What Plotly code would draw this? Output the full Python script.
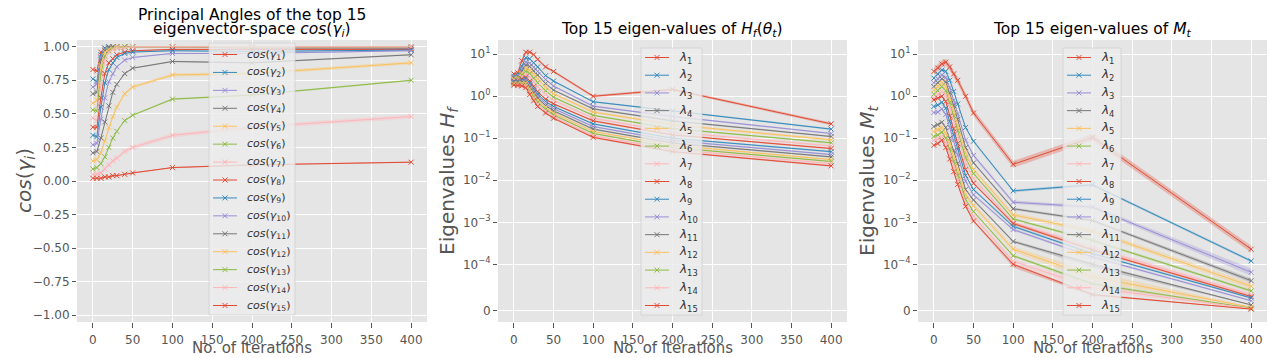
import numpy as np
import plotly.graph_objects as go
from plotly.subplots import make_subplots

# iterations at which the spectra were measured
iterations = [0, 5, 10, 15, 20, 25, 30, 40, 50, 100, 200, 400]

# cos of principal angles, one list per eigenvector
cos_gamma = [
    [0.83, 0.82, 0.96, 0.99, 1.00, 1.00, 1.00, 1.00, 1.00, 1.00, 1.00, 1.00],
    [0.76, 0.74, 0.94, 0.99, 1.00, 1.00, 1.00, 1.00, 1.00, 1.00, 1.00, 1.00],
    [0.70, 0.72, 0.92, 0.98, 0.99, 1.00, 1.00, 1.00, 1.00, 1.00, 1.00, 0.99],
    [0.65, 0.66, 0.90, 0.97, 0.99, 1.00, 1.00, 1.00, 1.00, 1.00, 0.99, 0.99],
    [0.58, 0.60, 0.86, 0.96, 0.98, 0.99, 1.00, 1.00, 1.00, 1.00, 1.00, 1.00],
    [0.53, 0.52, 0.80, 0.93, 0.97, 0.99, 0.99, 1.00, 1.00, 1.00, 1.00, 1.00],
    [0.47, 0.45, 0.72, 0.90, 0.96, 0.98, 0.99, 0.99, 1.00, 1.00, 1.00, 1.00],
    [0.40, 0.40, 0.62, 0.80, 0.88, 0.91, 0.94, 0.96, 0.97, 0.98, 0.98, 0.98],
    [0.34, 0.33, 0.55, 0.73, 0.83, 0.88, 0.92, 0.95, 0.96, 0.97, 0.965, 0.975],
    [0.27, 0.28, 0.46, 0.62, 0.74, 0.80, 0.85, 0.90, 0.92, 0.95, 0.95, 0.97],
    [0.21, 0.22, 0.32, 0.44, 0.56, 0.66, 0.72, 0.80, 0.84, 0.89, 0.88, 0.94],
    [0.15, 0.16, 0.21, 0.30, 0.40, 0.48, 0.55, 0.65, 0.70, 0.79, 0.80, 0.88],
    [0.09, 0.10, 0.13, 0.18, 0.25, 0.32, 0.37, 0.45, 0.49, 0.61, 0.64, 0.75],
    [0.05, 0.05, 0.06, 0.09, 0.12, 0.15, 0.17, 0.22, 0.25, 0.34, 0.40, 0.48],
    [0.02, 0.02, 0.02, 0.03, 0.03, 0.04, 0.04, 0.05, 0.06, 0.10, 0.12, 0.14],
]
cos_spread = [0.003, 0.003, 0.003, 0.003, 0.006, 0.004, 0.006, 0.004,
              0.004, 0.004, 0.005, 0.012, 0.006, 0.016, 0.005]

# top 15 eigenvalues of H_f(theta_t)
hf_eig = [
    [3.4, 3.6, 7.0, 11.2, 11.2, 9.8, 7.5, 5.0, 3.9, 1.0, 1.45, 0.22],
    [3.0, 3.1, 5.2, 8.2, 7.8, 6.3, 5.0, 3.1, 2.3, 0.74, 0.45, 0.165],
    [2.8, 2.9, 4.4, 6.5, 6.1, 4.9, 3.9, 2.5, 1.75, 0.58, 0.33, 0.13],
    [2.7, 2.8, 3.9, 5.5, 5.1, 4.0, 3.2, 2.0, 1.4, 0.50, 0.26, 0.11],
    [2.6, 2.7, 3.5, 4.6, 4.2, 3.3, 2.6, 1.65, 1.15, 0.42, 0.21, 0.092],
    [2.5, 2.6, 3.2, 3.9, 3.5, 2.7, 2.1, 1.35, 0.95, 0.35, 0.17, 0.078],
    [2.4, 2.45, 2.9, 3.3, 2.9, 2.2, 1.7, 1.1, 0.80, 0.30, 0.14, 0.066],
    [2.3, 2.35, 2.6, 2.85, 2.3, 1.7, 1.28, 0.85, 0.66, 0.26, 0.12, 0.057],
    [2.25, 2.25, 2.4, 2.6, 2.05, 1.5, 1.12, 0.75, 0.57, 0.22, 0.10, 0.048],
    [2.15, 2.15, 2.25, 2.4, 1.85, 1.35, 1.0, 0.67, 0.51, 0.19, 0.088, 0.041],
    [2.1, 2.1, 2.15, 2.2, 1.65, 1.2, 0.90, 0.60, 0.45, 0.165, 0.077, 0.036],
    [2.0, 2.0, 2.05, 2.05, 1.5, 1.08, 0.80, 0.54, 0.40, 0.145, 0.068, 0.031],
    [1.95, 1.95, 1.95, 1.9, 1.35, 0.97, 0.72, 0.49, 0.36, 0.13, 0.060, 0.028],
    [1.9, 1.85, 1.85, 1.75, 1.22, 0.87, 0.64, 0.44, 0.33, 0.115, 0.054, 0.025],
    [1.85, 1.8, 1.75, 1.6, 1.1, 0.78, 0.57, 0.40, 0.30, 0.105, 0.048, 0.022],
]
hf_spread = [0.03, 0.02, 0.02, 0.02, 0.03, 0.02, 0.03, 0.02,
             0.02, 0.02, 0.02, 0.02, 0.02, 0.03, 0.02]

# top 15 eigenvalues of M_t
mt_eig = [
    [3.9, 4.7, 5.9, 6.5, 5.0, 3.4, 2.4, 1.0, 0.40, 0.024, 0.105, 2.3e-4],
    [2.7, 3.4, 4.2, 3.9, 2.4, 1.3, 0.65, 0.18, 0.085, 0.0056, 0.0078, 1.2e-4],
    [2.1, 2.6, 3.2, 2.8, 1.6, 0.80, 0.38, 0.09, 0.039, 0.0030, 0.0023, 8.3e-5],
    [1.7, 2.1, 2.6, 2.2, 1.2, 0.60, 0.28, 0.06, 0.026, 0.0021, 0.0011, 6.5e-5],
    [1.4, 1.7, 2.1, 1.7, 0.90, 0.45, 0.20, 0.045, 0.018, 0.0015, 6.2e-4, 5.3e-5],
    [1.12, 1.35, 1.7, 1.35, 0.70, 0.34, 0.15, 0.034, 0.0144, 0.0012, 3.7e-4, 4.3e-5],
    [0.90, 1.1, 1.3, 1.05, 0.55, 0.26, 0.11, 0.026, 0.011, 0.0010, 2.5e-4, 3.5e-5],
    [0.82, 0.90, 1.0, 0.75, 0.34, 0.17, 0.075, 0.018, 0.0085, 9.3e-4, 2.2e-4, 3.1e-5],
    [0.57, 0.62, 0.72, 0.52, 0.25, 0.12, 0.055, 0.013, 0.0060, 8.0e-4, 1.8e-4, 2.8e-5],
    [0.41, 0.42, 0.50, 0.37, 0.18, 0.09, 0.040, 0.0095, 0.0045, 6.7e-4, 1.5e-4, 2.2e-5],
    [0.19, 0.21, 0.24, 0.18, 0.10, 0.05, 0.025, 0.0060, 0.0034, 3.5e-4, 1.0e-4, 1.3e-5],
    [0.145, 0.16, 0.18, 0.13, 0.075, 0.037, 0.018, 0.0045, 0.0025, 2.3e-4, 7.3e-5, 8e-6],
    [0.11, 0.12, 0.14, 0.10, 0.055, 0.028, 0.013, 0.0035, 0.0018, 1.6e-4, 5.8e-5, 6e-6],
    [0.09, 0.095, 0.11, 0.08, 0.042, 0.021, 0.010, 0.0028, 0.0014, 1.18e-4, 5.0e-5, 5e-6],
    [0.068, 0.075, 0.09, 0.06, 0.032, 0.016, 0.008, 0.0024, 0.00107, 1.0e-4, 3.5e-5, 4e-6],
]
mt_spread = [0.08, 0.03, 0.04, 0.03, 0.05, 0.03, 0.05, 0.03,
             0.03, 0.03, 0.03, 0.06, 0.03, 0.06, 0.03]

cos_ticks = [-1.0, -0.75, -0.5, -0.25, 0.0, 0.25, 0.5, 0.75, 1.0]
cos_tick_text = ['−1.00', '−0.75', '−0.50', '−0.25', '0.00', '0.25', '0.50', '0.75', '1.00']
sym_ticks = [0, 1e-4, 1e-3, 1e-2, 1e-1, 1, 10]
sym_tick_text = ['0', '10<sup>−4</sup>', '10<sup>−3</sup>', '10<sup>−2</sup>',
                 '10<sup>−1</sup>', '10<sup>0</sup>', '10<sup>1</sup>']
x_ticks = [0, 50, 100, 150, 200, 250, 300, 350, 400]

cos_names = ['<i>cos</i>(<i>γ</i><sub>%d</sub>)' % (i + 1) for i in range(15)]
lam_names = ['<i>λ</i><sub>%d</sub>' % (i + 1) for i in range(15)]

# ggplot style colour cycle
cycle = ['#E24A33', '#348ABD', '#988ED5', '#777777', '#FBC15E', '#8EBA42', '#FFB5B8']
colors = [cycle[i % len(cycle)] for i in range(15)]

LINTHRESH = 1e-4
LINSCALE = 1 / (1 - 1 / 10)


def symlog(v):
    # matplotlib style symlog (linthresh 1e-4, linscale 1), in decades
    v = np.asarray(v, dtype=float)
    return np.where(v <= LINTHRESH, v / LINTHRESH * LINSCALE,
                    LINSCALE + np.log10(np.maximum(v, LINTHRESH) / LINTHRESH))


def rgba(hexcol, a):
    h = hexcol.lstrip('#')
    return 'rgba(%d,%d,%d,%s)' % (int(h[0:2], 16), int(h[2:4], 16), int(h[4:6], 16), a)


FONT = 'DejaVu Sans'
GREY = '#555555'

# page body has an 8px margin, so the figure is laid out in window pixels minus 8
W, H, OFF = 1272, 350, 8


def px(x):
    return (x - OFF) / W


def py(y):
    return 1 - (y - OFF) / H


fig = make_subplots(rows=1, cols=3)


def add_series(col, ys, lo, hi, raw, color):
    fig.add_trace(go.Scatter(x=iterations, y=hi, mode='lines', line=dict(width=0),
                             showlegend=False, hoverinfo='skip'), row=1, col=col)
    fig.add_trace(go.Scatter(x=iterations, y=lo, mode='lines', line=dict(width=0),
                             fill='tonexty', fillcolor=rgba(color, 0.3),
                             showlegend=False, hoverinfo='skip'), row=1, col=col)
    fig.add_trace(go.Scatter(x=iterations, y=ys, mode='lines+markers', showlegend=False,
                             line=dict(color=color, width=1),
                             marker=dict(symbol='x-thin', size=5, line=dict(color=color, width=1)),
                             customdata=raw, hovertemplate='%{x}: %{customdata:.3g}<extra></extra>'),
                  row=1, col=col)


for i in range(15):
    c = np.array(cos_gamma[i])
    add_series(1, c, c - cos_spread[i], c + cos_spread[i], c, colors[i])
for i in range(15):
    v = np.array(hf_eig[i])
    add_series(2, symlog(v), symlog(v / 10 ** hf_spread[i]), symlog(v * 10 ** hf_spread[i]), v, colors[i])
for i in range(15):
    v = np.array(mt_eig[i])
    add_series(3, symlog(v), symlog(v / 10 ** mt_spread[i]), symlog(v * 10 ** mt_spread[i]), v, colors[i])

x_dom = [(77, 427), (498, 847), (918, 1267)]
y_dom = [py(322), py(40)]

axis_common = dict(showgrid=True, gridcolor='white', gridwidth=1, zeroline=False,
                   ticks='outside', tickcolor=GREY, showline=False,
                   tickfont=dict(family=FONT, size=12, color=GREY))

for k, (a, b) in enumerate(x_dom):
    fig.update_xaxes(domain=[px(a), px(b)], range=[-20, 420], tickvals=x_ticks, ticklen=5,
                     ticklabelstandoff=2, **axis_common, row=1, col=k + 1)
fig.update_yaxes(domain=y_dom, range=[-1.05, 1.05], tickvals=cos_ticks, ticklen=4,
                 ticktext=cos_tick_text, **axis_common, row=1, col=1)
for col in (2, 3):
    fig.update_yaxes(domain=y_dom, range=[-0.262, 6.45], tickvals=list(symlog(sym_ticks)),
                     ticklen=4, ticktext=sym_tick_text, **axis_common, row=1, col=col)

title_font = dict(size=15.5, color='black')
label_font = dict(size=20, color=GREY)
annotations = [
    dict(text='Principal Angles of the top 15', x=px(252), y=py(14.5), font=dict(title_font)),
    dict(text='eigenvector-space <i>cos</i>(<i>γ<sub>i</sub></i>)', x=px(252), y=py(30.5),
         font=dict(title_font)),
    dict(text='Top 15 eigen-values of <i>H<sub>f</sub></i>(<i>θ<sub>t</sub></i>)',
         x=px(672), y=py(30), font=dict(title_font)),
    dict(text='Top 15 eigen-values of <i>M<sub>t</sub></i>',
         x=px(1092), y=py(30), font=dict(title_font)),
    dict(text='<i>cos</i>(<i>γ<sub>i</sub></i>)', x=px(25), y=py(181), textangle=-90,
         font=dict(label_font)),
    dict(text='Eigenvalues <i>H<sub>f</sub></i>', x=px(448), y=py(181), textangle=-90,
         font=dict(label_font)),
    dict(text='Eigenvalues <i>M<sub>t</sub></i>', x=px(868), y=py(181), textangle=-90,
         font=dict(label_font)),
]
for a, b in x_dom:
    annotations.append(dict(text='No. of iterations', x=px((a + b) / 2), y=py(348),
                            font=dict(size=15, color=GREY)))
for ann in annotations:
    ann.update(xanchor='center', yanchor='middle')

# legends drawn by hand so that the entry spacing matches the original
shapes = []
legend_boxes = [(209, 295, 43, 315, cos_names, 11), (641, 702, 48, 315, lam_names, 12),
                (1063, 1121, 48, 315, lam_names, 12)]
for left, right, top, bottom, names, fsize in legend_boxes:
    shapes.append(dict(type='rect', xref='paper', yref='paper', x0=px(left), x1=px(right),
                       y0=py(bottom), y1=py(top), fillcolor='rgba(236,236,236,0.82)',
                       line=dict(color='rgba(205,205,205,0.7)', width=1), layer='above'))
    first = top + (11.5 if top < 45 else 9.5)
    step = (bottom - 9.5 - first) / 14
    for i, name in enumerate(names):
        yc = first + i * step
        shapes.append(dict(type='path', xref='paper', yref='paper', xsizemode='pixel',
                           ysizemode='pixel', xanchor=px(left + 16), yanchor=py(yc),
                           path='M -12 0 L 12 0 M -2.5 -2.5 L 2.5 2.5 M -2.5 2.5 L 2.5 -2.5',
                           line=dict(color=colors[i], width=1), layer='above'))
        annotations.append(dict(text=name, x=px(left + 36), y=py(yc), xanchor='left',
                                yanchor='middle', font=dict(size=fsize, color='#333333')))

for ann in annotations:
    ann.update(xref='paper', yref='paper', showarrow=False)
    ann['font']['family'] = FONT

fig.update_layout(
    width=W, height=H,
    margin=dict(l=0, r=0, t=0, b=0),
    paper_bgcolor='white',
    plot_bgcolor='#E5E5E5',
    font=dict(family=FONT),
    showlegend=False,
    annotations=annotations,
    shapes=shapes,
)

fig.write_html("out.html")
